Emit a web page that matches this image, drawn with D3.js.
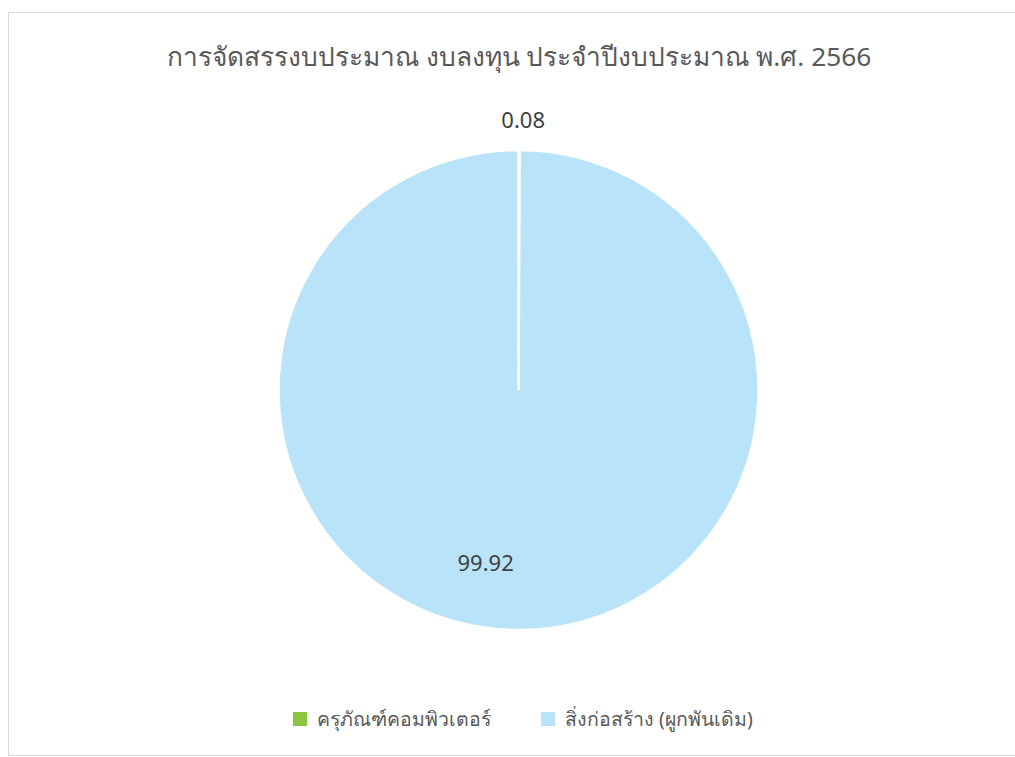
<!DOCTYPE html>
<html><head><meta charset="utf-8">
<script src="https://cdn.jsdelivr.net/npm/d3@7"></script>
<style>body{margin:0;background:#fff;} svg{display:block;}</style>
</head><body>
<svg id="c" width="1015" height="757"></svg>
<script>
const title = "การจัดสรรงบประมาณ งบลงทุน ประจำปีงบประมาณ พ.ศ. 2566";
const categories = ["ครุภัณฑ์คอมพิวเตอร์", "สิ่งก่อสร้าง (ผูกพันเดิม)"];
const values = [0.08, 99.92];
const colors = ["#8cc641", "#b9e3f8"];

const W = 1015, H = 757;
const svg = d3.select("#c");
const font = "'Noto Sans', 'DejaVu Sans', sans-serif";

svg.append("rect").attr("x", 8.5).attr("y", 12.5).attr("width", W + 10).attr("height", H - 14)
  .attr("fill", "#fff").attr("stroke", "#d9d9d9").attr("stroke-width", 1);

svg.append("text").attr("x", 519).attr("y", 66).attr("text-anchor", "middle")
  .attr("font-family", font).attr("font-size", 26.3).attr("fill", "#595959").text(title);

const cx = 518.5, cy = 390, r = 240;
const g = svg.append("g").attr("transform", `translate(${cx},${cy})`);
const data = categories.map((c, i) => ({c, v: values[i]}));
const pie = d3.pie().value(d => d.v).sort(null);
const arcs = pie(data);
const arc = d3.arc().innerRadius(0).outerRadius(r);
const color = d3.scaleOrdinal().domain(categories).range(colors);

g.selectAll("path").data(arcs).join("path")
  .attr("d", arc).attr("fill", d => color(d.data.c))
  .attr("stroke", "#fff").attr("stroke-width", 2.5).attr("stroke-linejoin", "miter");

// labels
const outerLab = d3.arc().innerRadius(r + 30).outerRadius(r + 30);
arcs.forEach((a, i) => {
  let p;
  if (i === 0) {
    p = outerLab.centroid(a);
    p[0] += 4;
  } else {
    const ang = (a.startAngle + a.endAngle) / 2 + 0.185;
    const rr = r * 0.735;
    p = [Math.sin(ang) * rr, -Math.cos(ang) * rr];
  }
  g.append("text").attr("x", p[0]).attr("y", p[1]).attr("dy", "0.35em")
    .attr("text-anchor", "middle").attr("font-family", font).attr("font-size", 22)
    .attr("fill", "#404040").text(values[i].toFixed(2));
});

// legend
const legX = [293, 541];
categories.forEach((c, i) => {
  const lg = svg.append("g").attr("transform", `translate(${legX[i]},712)`);
  lg.append("rect").attr("width", 14).attr("height", 14).attr("fill", color(c));
  lg.append("text").attr("x", 24).attr("y", 7).attr("dy", "0.35em")
    .attr("font-family", font).attr("font-size", 19.5).attr("fill", "#595959").text(c);
});
</script>
</body></html>
